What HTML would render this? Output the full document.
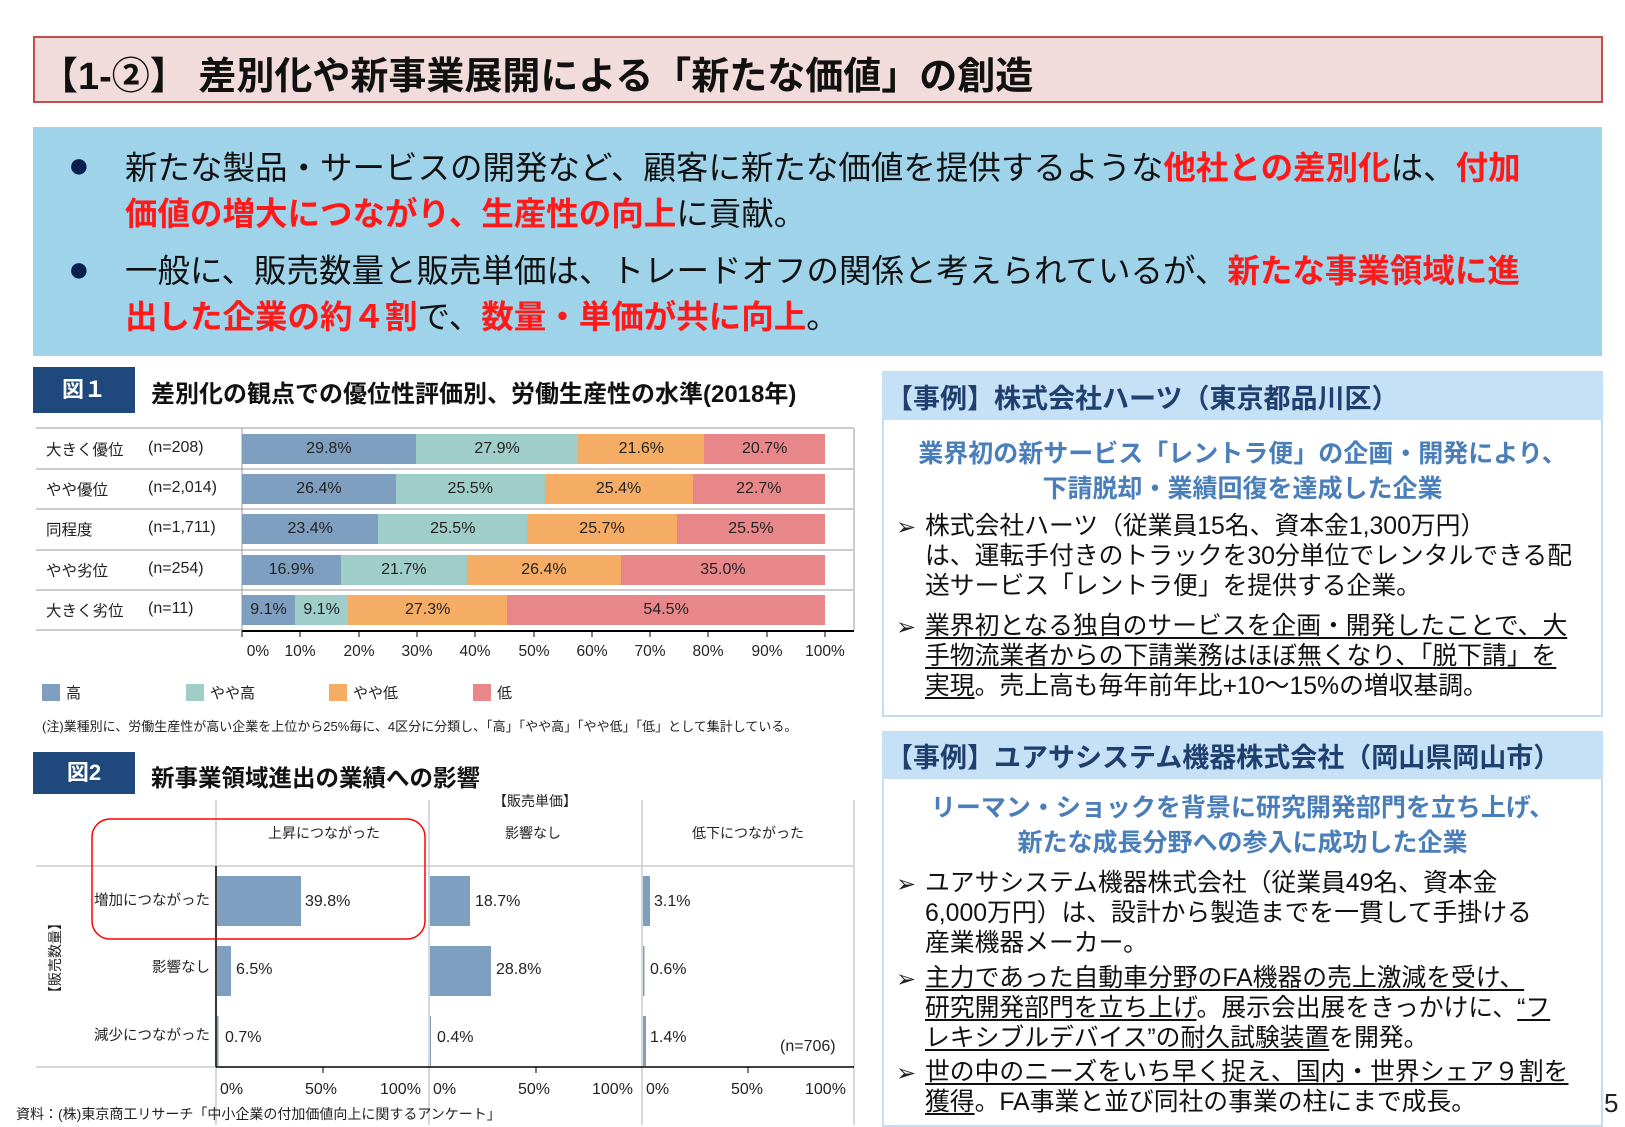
<!DOCTYPE html>
<html><head><meta charset="utf-8"><style>
body{margin:0;width:1625px;height:1125px;background:#fff;position:relative;overflow:hidden;font-family:"Liberation Sans","Noto Sans CJK JP",sans-serif;color:#222}
.a{position:absolute;white-space:nowrap}
.r{color:#ff1a1a;font-weight:bold}
.seg{height:100%;display:flex;align-items:center;justify-content:center;font-size:16px;color:#222}
.c1{background:#7f9fc1}.c2{background:#9fcdc8}.c3{background:#f5ad66}.c4{background:#e8878a}
.u{text-decoration:underline;text-underline-offset:3px}
.lb{position:absolute;left:46px;font-size:15.5px}
.rl{position:absolute;width:200px;left:10px;text-align:right;font-size:14.5px;white-space:nowrap}
.bt{font-size:24.8px;line-height:30px;color:#111}
</style></head><body>
<div class="a" style="left:33px;top:36px;width:1566px;height:63px;background:#f2dcdb;border:2px solid #c0504d"></div>
<div class="a" style="left:40px;top:45px;font-size:38px;font-weight:bold;color:#111">【1-②】 差別化や新事業展開による「新たな価値」の創造</div>
<div class="a" style="left:33px;top:127px;width:1569px;height:229px;background:#9ed3ea"></div>
<div class="a" style="left:68px;top:144px;font-size:36px;color:#0b1f4f">●</div>
<div class="a" style="left:68px;top:248px;font-size:36px;color:#0b1f4f">●</div>
<div class="a" style="left:125px;top:145px;font-size:32.5px;line-height:46px;color:#111">新たな製品・サービスの開発など、顧客に新たな価値を提供するような<span class="r">他社との差別化</span>は、<span class="r">付加</span><br><span class="r">価値の増大につながり、生産性の向上</span>に貢献。</div>
<div class="a" style="left:125px;top:248px;font-size:32.5px;line-height:46px;color:#111">一般に、販売数量と販売単価は、トレードオフの関係と考えられているが、<span class="r">新たな事業領域に進</span><br><span class="r">出した企業の約４割</span>で、<span class="r">数量・単価が共に向上</span>。</div>
<div class="a" style="left:33px;top:367px;width:102px;height:46px;background:#1f497d;color:#fff;font-size:22px;font-weight:bold;line-height:46px;text-align:center">図１</div>
<div class="a" style="left:151px;top:374px;font-size:24px;font-weight:bold;color:#111">差別化の観点での優位性評価別、労働生産性の水準(2018年)</div>
<svg class="a" style="left:0;top:0" width="860" height="740">
<g stroke="#ccc" stroke-width="2">
<line x1="36" y1="428" x2="854" y2="428"/><line x1="36" y1="469" x2="854" y2="469"/><line x1="36" y1="509" x2="854" y2="509"/><line x1="36" y1="550" x2="854" y2="550"/><line x1="36" y1="590" x2="854" y2="590"/><line x1="36" y1="630" x2="242" y2="630"/><line x1="854" y1="428" x2="854" y2="630"/></g>
<line x1="242" y1="428" x2="242" y2="632" stroke="#999"/>
<line x1="242" y1="631" x2="854" y2="631" stroke="#000" stroke-width="2"/>
<g stroke="#000"><line x1="242" y1="631" x2="242" y2="637"/><line x1="300" y1="631" x2="300" y2="637"/><line x1="359" y1="631" x2="359" y2="637"/><line x1="417" y1="631" x2="417" y2="637"/><line x1="475" y1="631" x2="475" y2="637"/><line x1="534" y1="631" x2="534" y2="637"/><line x1="592" y1="631" x2="592" y2="637"/><line x1="650" y1="631" x2="650" y2="637"/><line x1="708" y1="631" x2="708" y2="637"/><line x1="767" y1="631" x2="767" y2="637"/><line x1="825" y1="631" x2="825" y2="637"/></g>
<g font-size="15.5" fill="#222" text-anchor="middle" font-family="Liberation Sans,sans-serif"><text x="258" y="656">0%</text><text x="300" y="656">10%</text><text x="359" y="656">20%</text><text x="417" y="656">30%</text><text x="475" y="656">40%</text><text x="534" y="656">50%</text><text x="592" y="656">60%</text><text x="650" y="656">70%</text><text x="708" y="656">80%</text><text x="767" y="656">90%</text><text x="825" y="656">100%</text></g>
</svg>
<div class="lb" style="top:438px">大きく優位</div><div class="lb" style="top:478px">やや優位</div><div class="lb" style="top:518px">同程度</div><div class="lb" style="top:559px">やや劣位</div><div class="lb" style="top:599px">大きく劣位</div>
<div class="a" style="left:148px;top:439px;font-size:16px">(n=208)</div>
<div class="a" style="left:148px;top:479px;font-size:16px">(n=2,014)</div>
<div class="a" style="left:148px;top:519px;font-size:16px">(n=1,711)</div>
<div class="a" style="left:148px;top:560px;font-size:16px">(n=254)</div>
<div class="a" style="left:148px;top:600px;font-size:16px">(n=11)</div>
<div class="a" style="left:242px;top:434px;width:583px;height:30px;display:flex"><div class="seg c1" style="width:29.8%">29.8%</div><div class="seg c2" style="width:27.9%">27.9%</div><div class="seg c3" style="width:21.6%">21.6%</div><div class="seg c4" style="width:20.7%">20.7%</div></div>
<div class="a" style="left:242px;top:474px;width:583px;height:30px;display:flex"><div class="seg c1" style="width:26.4%">26.4%</div><div class="seg c2" style="width:25.5%">25.5%</div><div class="seg c3" style="width:25.4%">25.4%</div><div class="seg c4" style="width:22.7%">22.7%</div></div>
<div class="a" style="left:242px;top:514px;width:583px;height:30px;display:flex"><div class="seg c1" style="width:23.4%">23.4%</div><div class="seg c2" style="width:25.5%">25.5%</div><div class="seg c3" style="width:25.7%">25.7%</div><div class="seg c4" style="width:25.4%">25.5%</div></div>
<div class="a" style="left:242px;top:555px;width:583px;height:30px;display:flex"><div class="seg c1" style="width:16.9%">16.9%</div><div class="seg c2" style="width:21.7%">21.7%</div><div class="seg c3" style="width:26.4%">26.4%</div><div class="seg c4" style="width:35.0%">35.0%</div></div>
<div class="a" style="left:242px;top:595px;width:583px;height:30px;display:flex"><div class="seg c1" style="width:9.1%">9.1%</div><div class="seg c2" style="width:9.1%">9.1%</div><div class="seg c3" style="width:27.3%">27.3%</div><div class="seg c4" style="width:54.5%">54.5%</div></div>
<div class="a c1" style="left:42px;top:684px;width:18px;height:17px"></div><div class="a" style="left:66px;top:682px;font-size:15px">高</div>
<div class="a c2" style="left:186px;top:684px;width:18px;height:17px"></div><div class="a" style="left:210px;top:682px;font-size:15px">やや高</div>
<div class="a c3" style="left:329px;top:684px;width:18px;height:17px"></div><div class="a" style="left:353px;top:682px;font-size:15px">やや低</div>
<div class="a c4" style="left:473px;top:684px;width:18px;height:17px"></div><div class="a" style="left:497px;top:682px;font-size:15px">低</div>
<div class="a" style="left:42px;top:716px;font-size:13px">(注)業種別に、労働生産性が高い企業を上位から25%毎に、4区分に分類し、「高」「やや高」「やや低」「低」として集計している。</div>
<div class="a" style="left:33px;top:752px;width:102px;height:42px;background:#1f497d;color:#fff;font-size:22px;font-weight:bold;line-height:42px;text-align:center">図2</div>
<div class="a" style="left:151px;top:759px;font-size:23.5px;font-weight:bold;color:#111">新事業領域進出の業績への影響</div>
<svg class="a" style="left:0;top:740px" width="860" height="385">
<g stroke="#ccc" stroke-width="1.5"><line x1="216" y1="60" x2="216" y2="385"/><line x1="429" y1="60" x2="429" y2="385"/><line x1="642" y1="60" x2="642" y2="385"/><line x1="854" y1="60" x2="854" y2="385"/>
<line x1="36" y1="126" x2="854" y2="126"/><line x1="36" y1="327" x2="216" y2="327"/></g>
<line x1="216" y1="126" x2="216" y2="327" stroke="#000" stroke-width="1.5"/>
<line x1="216" y1="327" x2="854" y2="327" stroke="#000" stroke-width="1.5"/>
<g stroke="#000"><line x1="323" y1="327" x2="323" y2="333"/><line x1="536" y1="327" x2="536" y2="333"/><line x1="748" y1="327" x2="748" y2="333"/></g>
<g fill="#7f9fc1"><rect x="217" y="136" width="84" height="50"/><rect x="217" y="206" width="14" height="50"/><rect x="217" y="276" width="1.5" height="50"/>
<rect x="430" y="136" width="40" height="50"/><rect x="430" y="206" width="61" height="50"/><rect x="430" y="276" width="1" height="50"/>
<rect x="643" y="136" width="7" height="50"/><rect x="643" y="206" width="1.5" height="50"/><rect x="643" y="276" width="3" height="50"/></g>
<rect x="92" y="79" width="333" height="120" rx="18" fill="none" stroke="#ff0000" stroke-width="1.5"/>
<g font-size="16" fill="#222" font-family="Liberation Sans,sans-serif"><text x="305" y="166">39.8%</text><text x="236" y="234">6.5%</text><text x="225" y="302">0.7%</text>
<text x="475" y="166">18.7%</text><text x="496" y="234">28.8%</text><text x="437" y="302">0.4%</text>
<text x="654" y="166">3.1%</text><text x="650" y="234">0.6%</text><text x="650" y="302">1.4%</text><text x="780" y="311">(n=706)</text>
<text x="220" y="354">0%</text><text x="305" y="354">50%</text><text x="380" y="354">100%</text><text x="433" y="354">0%</text><text x="518" y="354">50%</text><text x="592" y="354">100%</text><text x="646" y="354">0%</text><text x="731" y="354">50%</text><text x="805" y="354">100%</text></g>
</svg>
<div class="a" style="left:493px;top:791px;font-size:14px">【販売単価】</div>
<div class="a" style="left:268px;top:823px;font-size:14px">上昇につながった</div>
<div class="a" style="left:505px;top:823px;font-size:14px">影響なし</div>
<div class="a" style="left:692px;top:823px;font-size:14px">低下につながった</div>
<div class="rl" style="top:889px">増加につながった</div>
<div class="rl" style="top:956px">影響なし</div>
<div class="rl" style="top:1024px">減少につながった</div>
<div class="a" style="left:10px;top:948px;width:90px;text-align:center;font-size:14px;transform:rotate(-90deg)">【販売数量】</div>
<div class="a" style="left:16px;top:1104px;font-size:14px">資料：(株)東京商工リサーチ「中小企業の付加価値向上に関するアンケート」</div>
<div class="a" style="left:882px;top:371px;width:717px;height:342px;border:2px solid #c5ddf2"></div>
<div class="a" style="left:882px;top:371px;width:721px;height:49px;background:#c6e0f6"></div>
<div class="a" style="left:886px;top:377px;font-size:27px;font-weight:bold;color:#1f3f6f">【事例】株式会社ハーツ（東京都品川区）</div>
<div class="a" style="left:882px;top:437px;width:721px;text-align:center;font-size:25px;line-height:35px;font-weight:bold;color:#4a7ebb">業界初の新サービス「レントラ便」の企画・開発により、<br>下請脱却・業績回復を達成した企業</div>
<div class="a" style="left:896px;top:513px;font-size:24px">➢</div>
<div class="a bt" style="left:925px;top:512px">株式会社ハーツ（従業員15名、資本金1,300万円）<br>は、運転手付きのトラックを30分単位でレンタルできる配<br>送サービス「レントラ便」を提供する企業。</div>
<div class="a" style="left:896px;top:613px;font-size:24px">➢</div>
<div class="a bt" style="left:925px;top:612px"><span class="u">業界初となる独自のサービスを企画・開発したことで、大</span><br><span class="u">手物流業者からの下請業務はほぼ無くなり、「脱下請」を</span><br><span class="u">実現</span>。売上高も毎年前年比+10～15%の増収基調。</div>
<div class="a" style="left:882px;top:731px;width:717px;height:392px;border:2px solid #c5ddf2"></div>
<div class="a" style="left:882px;top:731px;width:721px;height:48px;background:#c6e0f6"></div>
<div class="a" style="left:886px;top:736px;font-size:27px;font-weight:bold;color:#1f3f6f">【事例】ユアサシステム機器株式会社（岡山県岡山市）</div>
<div class="a" style="left:882px;top:791px;width:721px;text-align:center;font-size:25px;line-height:35px;font-weight:bold;color:#4a7ebb">リーマン・ショックを背景に研究開発部門を立ち上げ、<br>新たな成長分野への参入に成功した企業</div>
<div class="a" style="left:896px;top:870px;font-size:24px">➢</div>
<div class="a bt" style="left:925px;top:869px">ユアサシステム機器株式会社（従業員49名、資本金<br>6,000万円）は、設計から製造までを一貫して手掛ける<br>産業機器メーカー。</div>
<div class="a" style="left:896px;top:965px;font-size:24px">➢</div>
<div class="a bt" style="left:925px;top:964px"><span class="u">主力であった自動車分野のFA機器の売上激減を受け、</span><br><span class="u">研究開発部門を立ち上げ</span>。展示会出展をきっかけに、<span class="u">“フ</span><br><span class="u">レキシブルデバイス”の耐久試験装置</span>を開発。</div>
<div class="a" style="left:896px;top:1059px;font-size:24px">➢</div>
<div class="a bt" style="left:925px;top:1058px"><span class="u">世の中のニーズをいち早く捉え、国内・世界シェア９割を</span><br><span class="u">獲得</span>。FA事業と並び同社の事業の柱にまで成長。</div>
<div class="a" style="left:1604px;top:1088px;font-size:26px">5</div>
</body></html>
